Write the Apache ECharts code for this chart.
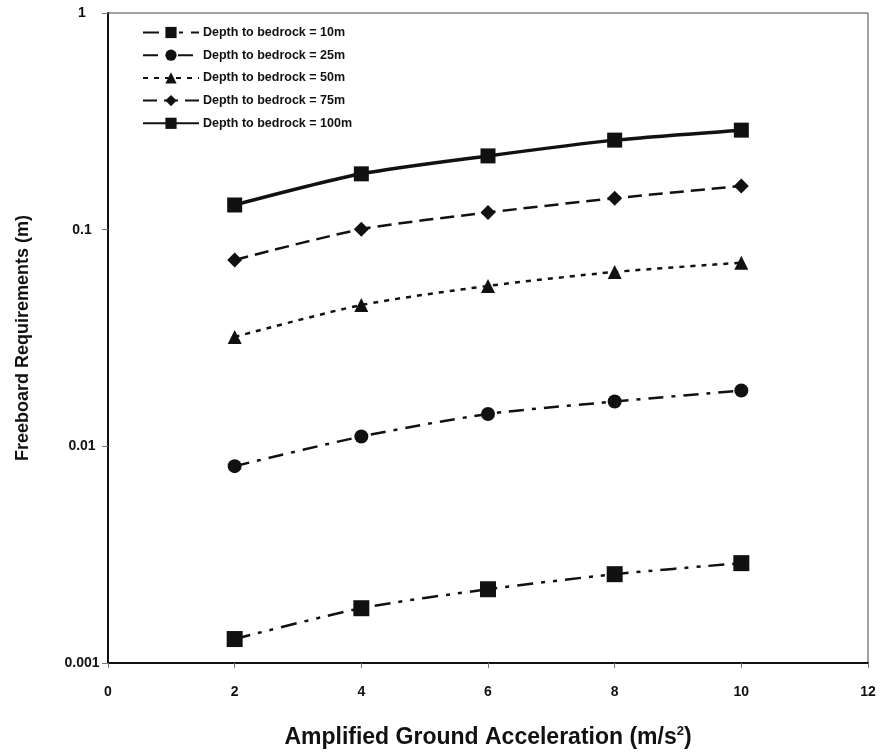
<!DOCTYPE html>
<html>
<head>
<meta charset="utf-8">
<script src="https://cdn.jsdelivr.net/npm/echarts@6/dist/echarts.min.js"></script>
<style>
html, body { margin: 0; padding: 0; background: #fff; }
#chart { width: 896px; height: 755px; }
</style>
</head>
<body>
<div id="chart"></div>
<script>
// x values (m/s^2)
const accel = [2, 4, 6, 8, 10];
// freeboard requirements (m)
const depth10 = [0.00129, 0.00179, 0.00219, 0.00257, 0.00289];
const depth25 = [0.0081, 0.0111, 0.0141, 0.0161, 0.0181];
const depth50 = [0.032, 0.0449, 0.055, 0.0638, 0.0704];
const depth75 = [0.0725, 0.1005, 0.120, 0.1396, 0.159];
const depth100 = [0.130, 0.181, 0.219, 0.259, 0.288];
const seriesNames = ['Depth to bedrock = 10m', 'Depth to bedrock = 25m', 'Depth to bedrock = 50m',
  'Depth to bedrock = 75m', 'Depth to bedrock = 100m'];

const font = 'Liberation Sans, Arial, sans-serif';
const chart = echarts.init(document.getElementById('chart'));

function pairs(ys) {
  return accel.map((x, i) => [x, ys[i]]);
}

function line(name, ys, symbol, size, dash, width) {
  return {
    name: name,
    type: 'line',
    data: pairs(ys),
    smooth: 0.25,
    symbol: symbol,
    symbolSize: size,
    itemStyle: { color: '#111' },
    lineStyle: { color: '#111', width: width, type: dash },
    emphasis: { disabled: true }
  };
}

const option = {
  animation: false,
  backgroundColor: '#fff',
  textStyle: { fontFamily: font },
  grid: {
    left: 108, right: 28, top: 13, bottom: 92,
    show: true, borderColor: '#444', borderWidth: 1
  },
  legend: {
    orient: 'vertical',
    left: 137, top: 21,
    itemWidth: 56, itemHeight: 14, itemGap: 9.7,
    data: seriesNames,
    textStyle: { fontFamily: font, fontWeight: 'bold', fontSize: 12.5, color: '#111', padding: [0, 0, 0, -1] }
  },
  xAxis: {
    type: 'value',
    min: 0, max: 12, interval: 2,
    name: 'Amplified Ground Acceleration (m/s{sup|2})',
    nameLocation: 'middle',
    nameGap: 62,
    nameTextStyle: {
      fontFamily: font, fontWeight: 'bold', fontSize: 23, color: '#111',
      rich: { sup: { fontSize: 13, fontWeight: 'bold', fontFamily: font, verticalAlign: 'top', padding: [0, 0, 12, 0], color: '#111' } }
    },
    axisLine: { lineStyle: { color: '#111', width: 2 } },
    axisTick: { show: true, length: 5, lineStyle: { color: '#777', width: 1 } },
    axisLabel: { margin: 22, fontSize: 14, fontWeight: 'bold', color: '#111', fontFamily: font },
    splitLine: { show: false }
  },
  yAxis: {
    type: 'log',
    logBase: 10,
    min: 0.001, max: 1,
    name: 'Freeboard Requirements (m)',
    nameLocation: 'middle',
    nameGap: 76,
    nameTextStyle: { fontFamily: font, fontWeight: 'bold', fontSize: 18, color: '#111' },
    axisLine: { show: true, lineStyle: { color: '#111', width: 2 } },
    axisTick: { show: true, length: 6, lineStyle: { color: '#777', width: 1 } },
    axisLabel: {
      margin: 26, align: 'center', fontSize: 14, fontWeight: 'bold', color: '#111', fontFamily: font,
      formatter: v => String(parseFloat(Number(v).toPrecision(3)))
    },
    splitLine: { show: false },
    minorTick: { show: false }
  },
  series: [
    line(seriesNames[0], depth10, 'rect', 16, [16, 8, 4, 8, 4, 8], 2.5),
    line(seriesNames[1], depth25, 'circle', 14, [15, 8, 4, 8], 2.5),
    line(seriesNames[2], depth50, 'triangle', 14, [5, 6], 2.5),
    line(seriesNames[3], depth75, 'diamond', 15, [14, 7], 2.5),
    line(seriesNames[4], depth100, 'rect', 15, 'solid', 3.5)
  ]
};

chart.setOption(option);
</script>
</body>
</html>
